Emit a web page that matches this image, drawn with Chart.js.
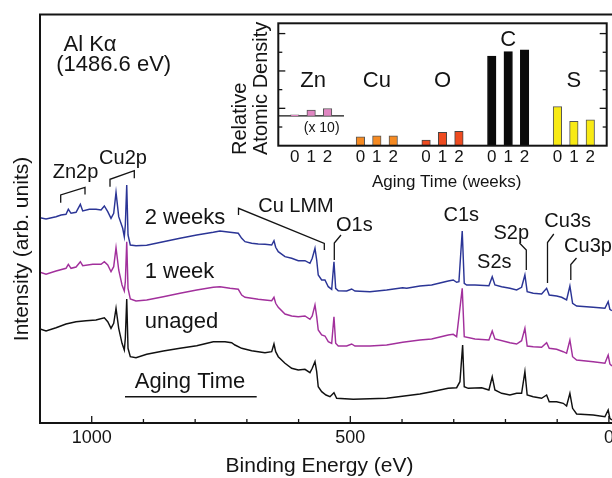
<!DOCTYPE html>
<html><head><meta charset="utf-8">
<script src="https://cdn.jsdelivr.net/npm/chart.js@4"></script>
<style>
html,body{margin:0;padding:0;background:#fff;overflow:hidden}
#wrap{position:relative;width:612px;height:478px;background:#fff}
#main{position:absolute;left:0;top:0;width:612px;height:478px}
#inset{position:absolute;left:220px;top:0;width:392px;height:200px}
</style></head><body>
<div id="wrap"><canvas id="main" width="612" height="478"></canvas><canvas id="inset" width="392" height="200"></canvas></div>
<script>
// ---------- main spectra data (binding energy in eV, intensity in arb. units) ----------
const energy2w = [1100,1088.3,1069,1059.3,1049.7,1045.2,1040,1030.3,1022,1017.4,1004.6,991.7,982,975.6,969,962.7,957.5,953,947.8,940.1,937,935,932.3,929.8,925.4,914.4,893.7,861.6,829.3,797,765,752,732.6,716.6,710,703.6,690.7,678,665,652,647.6,644.3,639.3,626.3,613.4,600.6,587.7,578,573.6,568.3,565,562,555.4,549,542.6,536,531.6,528.3,523.3,507,497.4,491,462,429.7,398.8,391,365.4,342.7,310.7,301,294.4,290,283.6,279.7,275,259,232,225.6,220.4,207.4,191.4,178.4,168.8,162.4,158,146.3,130.1,120.4,115.4,101.1,91.4,81.8,75.4,70.2,62.4,30.4,7.7,1.4,-1.9,-5.8];
const counts2w = [205.3,204,206.3,208,208.7,213.7,209.7,210.7,218.7,212,213.7,213.7,213,217,211.3,204.7,209.7,230.7,206.3,194.7,186.3,198,238,188,178,177.3,177.7,181.3,184.7,188,190.7,192,190.7,189.7,184.7,181.3,179.7,179,178.7,178,182.3,175.7,171.3,166.3,164.7,162.3,162.3,159.7,164.7,174.7,163,148,143,143,136.3,133.7,161.3,134.7,132.3,132,134,132,131.3,133,135.3,134.7,137,138,142,143,140.7,141.3,192,139.7,138,138,137.3,146.3,138,136.3,134.7,133,135.7,148,131.3,129.7,129,134.7,128,127,125.7,123,137,119.7,117,115.7,114.7,121.3,113.7,112.3];

const energy1w = [1100,1088.3,1069,1049.7,1045.2,1040,1030.3,1022,1017.4,998,982,975.6,969,962.7,957.5,953,947.8,941.4,937,935,932.3,929.8,925.4,914.4,893.7,861.6,829.3,797,765,752,732.6,716.6,710,703.6,690.7,678,665,652,647.6,644.3,639.3,626.3,613.4,600.6,587.7,578,573.6,568.3,565,562,555.4,549,542.6,536,531.6,528.3,523.3,507,497.4,491,462,429.7,398.8,365.4,342.7,310.7,301,294.4,283.6,279.7,259,232,225.6,220.4,191.4,178.4,168.8,162.4,158,146.3,130.1,120.4,115.4,101.1,88.3,81.8,75.4,70.2,62.4,30.4,7.7,1.4,-1.9,-5.8];
const counts1w = [150.7,148.7,152,154.7,158.7,154.7,156,161.3,157.3,158.7,158.7,161.3,158,151.3,156.3,175.3,153,138,132,141.3,181.3,134.7,124,122,123,126.3,129.7,133,135.7,136.3,134.7,133.7,128,125.7,124.7,123.7,123,122.3,125.7,119.7,115.7,109,107,106.3,107,103.7,107,118,106.3,93,88,87,81.3,79.7,106.3,79.7,77,77,79,77,77,78,80.7,83,84,88,88.7,86.3,134.7,86.3,84,83,92,84,80.3,79,82.3,94.7,77,76.3,75.7,80.3,74.7,73.7,71.3,69.7,83,66.3,63,61.3,59.7,68,59,57];

const energy0w = [1100,1088.3,1069,1049.7,1030.3,1011,991.7,975.6,969,962.7,957.5,953,947.8,941.4,937,935,932.3,929.8,925.4,914.4,893.7,861.6,829.3,797,765,742.3,729.4,723,710,690.7,678,665,652,647.6,644.3,639.3,626.3,613.4,600.6,587.7,578,573.6,568.3,565,562,555.4,547,539.3,531.6,526.4,494.3,429.7,365.4,342.7,310.7,294.4,288,282.8,279.7,272,246.1,232,225.6,220.4,207.4,191.4,178.4,168.8,162.4,158,146.3,130.1,120.4,115.4,101.1,88.3,81.8,75.4,70.2,62.4,30.4,7.7,1.4,-1.9,-5.8];
const counts0w = [94,92,95.3,99,101.3,102.3,103,105.3,101.3,94.7,99.7,114.7,94.7,79.7,73,84.7,124,74.7,66.3,65.3,68.7,72,74.7,77.3,81.3,81.3,80.3,78,74.7,72.3,71.3,70.3,71.3,79,71.3,66.3,59.7,54.7,53,53.7,50.3,54.7,61.3,51.3,36.3,31.3,28,26.3,30.3,24.7,23.7,24.7,29,31.3,34.7,35.3,41.3,78,36.3,34.7,35.3,33,46.3,33,29.7,28,29.7,29.7,51.3,28,26.3,24.7,28,21.3,21.3,19.7,17,29.7,14.7,9,8,6.3,13,4.7,3];

const majorEnergyTicks = [1000, 500, 0];
const minorEnergyTicks = [900, 800, 700, 600, 400, 300, 200, 100];

// ---------- inset data (relative atomic density) ----------
const elements = ['Zn', 'Cu', 'O', 'C', 'S'];
const weekLabels = ['0', '1', '2'];
const densityWeek0 = [0.05, 0.48, 0.30, 4.80, 2.09];
const densityWeek1 = [0.30, 0.53, 0.71, 5.03, 1.30];
const densityWeek2 = [0.39, 0.53, 0.77, 5.13, 1.39];
const znOffset = 1.60;          // Zn bars (x 10) drawn on a raised baseline
const densityMajorTicks = [2, 4, 6];
const densityMinorTicks = [1, 3, 5];

const FONT = "'Liberation Sans', Arial, Helvetica, sans-serif";
const INK = '#141414';

function toXY(xs, ys) { return xs.map((x, i) => ({ x: x, y: ys[i] })); }

function drawPoly(ctx, pts, lw) {
  ctx.beginPath();
  ctx.moveTo(pts[0][0], pts[0][1]);
  for (let i = 1; i < pts.length; i++) ctx.lineTo(pts[i][0], pts[i][1]);
  ctx.lineWidth = lw || 1.3;
  ctx.strokeStyle = INK;
  ctx.stroke();
}
function txt(ctx, s, x, y, size, align) {
  ctx.font = size + 'px ' + FONT;
  ctx.fillStyle = INK;
  ctx.textAlign = align || 'center';
  ctx.textBaseline = 'middle';
  ctx.fillText(s, x, y);
}

const mainDecor = {
  id: 'mainDecor',
  afterDraw(chart) {
    const ctx = chart.ctx, a = chart.chartArea, xs = chart.scales.x;
    ctx.save();
    // frame
    ctx.lineWidth = 2; ctx.strokeStyle = INK; ctx.lineCap = 'square';
    ctx.beginPath();
    ctx.moveTo(a.right + 2, a.top); ctx.lineTo(a.left, a.top); ctx.lineTo(a.left, a.bottom); ctx.lineTo(a.right + 2, a.bottom);
    ctx.stroke();
    ctx.lineCap = 'butt';
    // inward ticks
    ctx.lineWidth = 1.3;
    majorEnergyTicks.forEach(v => { const x = xs.getPixelForValue(v); ctx.beginPath(); ctx.moveTo(x, a.bottom); ctx.lineTo(x, a.bottom - 7); ctx.stroke(); });
    minorEnergyTicks.forEach(v => { const x = xs.getPixelForValue(v); ctx.beginPath(); ctx.moveTo(x, a.bottom); ctx.lineTo(x, a.bottom - 4); ctx.stroke(); });
    // axis titles
    txt(ctx, 'Binding Energy (eV)', 319.5, 466, 21);
    ctx.save(); ctx.translate(22, 249); ctx.rotate(-Math.PI / 2); txt(ctx, 'Intensity (arb. units)', 0, 0, 21); ctx.restore();
    // annotations
    txt(ctx, 'Al K\u03B1', 90, 45, 22);
    txt(ctx, '(1486.6 eV)', 113.7, 65, 22);
    txt(ctx, 'Zn2p', 75.5, 172, 20);
    txt(ctx, 'Cu2p', 123, 158, 20);
    drawPoly(ctx, [[60.7, 202.7], [60.7, 195], [85, 187.3], [85, 194.5]]);
    drawPoly(ctx, [[110, 186.7], [110, 179.3], [134.3, 170.7], [134.3, 178.3]]);
    txt(ctx, '2 weeks', 185, 217.5, 22);
    txt(ctx, '1 week', 179.5, 271.7, 22);
    txt(ctx, 'unaged', 181.5, 321.7, 22);
    txt(ctx, 'Aging Time', 190, 381.7, 22);
    drawPoly(ctx, [[125, 396.7], [256.7, 396.7]], 1.5);
    txt(ctx, 'Cu LMM', 296, 206.7, 20);
    drawPoly(ctx, [[238.5, 215], [238.5, 208.3], [324.3, 243.5], [324.3, 250]]);
    txt(ctx, 'O1s', 354.3, 225.8, 20);
    drawPoly(ctx, [[341, 235], [334.3, 243], [334.3, 260]]);
    txt(ctx, 'C1s', 461.3, 215.8, 20);
    txt(ctx, 'S2s', 494.3, 262.5, 20);
    txt(ctx, 'S2p', 511.3, 233, 20);
    drawPoly(ctx, [[519.5, 243], [526.3, 250], [526.3, 270]]);
    txt(ctx, 'Cu3s', 567.7, 221.7, 20);
    drawPoly(ctx, [[553.8, 234], [547.5, 242.5], [547.5, 283]]);
    txt(ctx, 'Cu3p', 588, 246.7, 20);
    drawPoly(ctx, [[576.5, 258], [570.8, 264.5], [570.8, 280]]);
    ctx.restore();
  }
};

new Chart(document.getElementById('main'), {
  type: 'line',
  data: {
    datasets: [
      { label: '2 weeks', data: toXY(energy2w, counts2w), borderColor: '#2b3596' },
      { label: '1 week', data: toXY(energy1w, counts1w), borderColor: '#a2309c' },
      { label: 'unaged', data: toXY(energy0w, counts0w), borderColor: '#111111' }
    ]
  },
  options: {
    responsive: false, animation: false, devicePixelRatio: 1,
    layout: { autoPadding: false, padding: { left: 0, right: 0, top: 14.5, bottom: 0 } },
    plugins: { legend: { display: false }, tooltip: { enabled: false } },
    elements: { point: { radius: 0 }, line: { borderWidth: 1.45, tension: 0 } },
    scales: {
      x: {
        type: 'linear', reverse: true, min: -6, max: 1100,
        afterBuildTicks: s => { s.ticks = majorEnergyTicks.map(v => ({ value: v })); },
        ticks: { autoSkip: false, maxRotation: 0, padding: 4, color: INK, font: { family: FONT, size: 18 }, callback: v => String(v) },
        grid: { display: false, drawTicks: false }, border: { display: false },
        afterFit: s => { s.height = 55; s.paddingLeft = 0; s.paddingRight = 0; }
      },
      y: {
        min: 0, max: 408.5,
        ticks: { display: false }, grid: { display: false, drawTicks: false }, border: { display: false },
        afterFit: s => { s.width = 40; s.paddingTop = 0; s.paddingBottom = 0; }
      }
    }
  },
  plugins: [mainDecor]
});

// ---------- inset ----------
const elementColors = ['#e086c2', '#f58a22', '#ee4b20', '#0a0a0a', '#f8ea14'];
const elementBorders = ['#555555', '#555555', '#444444', '#0a0a0a', '#555555'];
const weekSeries = [densityWeek0, densityWeek1, densityWeek2];
const slotsPerGroup = 4;
const barPositions = [];
elements.forEach((e, g) => weekLabels.forEach((w, k) => barPositions.push(slotsPerGroup * g + 1 + k)));

const insetDatasets = elements.map((el, g) => ({
  type: 'bar',
  label: el,
  data: weekSeries.map((series, k) => ({
    x: slotsPerGroup * g + 1 + k,
    y: el === 'Zn' ? [znOffset, znOffset + series[g]] : series[g]
  })),
  backgroundColor: elementColors[g],
  borderColor: elementBorders[g],
  borderWidth: 1,
  borderSkipped: 'bottom',
  barThickness: 8.5,
  grouped: false
}));
insetDatasets.push({
  type: 'line', label: 'Zn baseline',
  data: [{ x: 0, y: znOffset }, { x: slotsPerGroup, y: znOffset }],
  borderColor: INK, borderWidth: 1.2, pointRadius: 0
});

const insetDecor = {
  id: 'insetDecor',
  afterDraw(chart) {
    const ctx = chart.ctx, a = chart.chartArea, xs = chart.scales.x, ys = chart.scales.y;
    ctx.save();
    ctx.lineWidth = 2; ctx.strokeStyle = INK;
    ctx.strokeRect(a.left, a.top, a.right - a.left, a.bottom - a.top);
    ctx.lineWidth = 1.3;
    const tick = (v, len) => {
      const y = ys.getPixelForValue(v);
      ctx.beginPath(); ctx.moveTo(a.left, y); ctx.lineTo(a.left + len, y); ctx.stroke();
      ctx.beginPath(); ctx.moveTo(a.right, y); ctx.lineTo(a.right - len, y); ctx.stroke();
    };
    densityMajorTicks.forEach(v => tick(v, 7));
    densityMinorTicks.forEach(v => tick(v, 4));
    // element labels
    elements.forEach((el, g) => {
      const x = xs.getPixelForValue(slotsPerGroup * g + 2);
      txt(ctx, el, x + (el === 'Zn' ? 2 : 0), el === 'C' ? 40 : 80.7, 22);
    });
    txt(ctx, '(x 10)', xs.getPixelForValue(2.64), 128.3, 14);
    // titles
    txt(ctx, 'Aging Time (weeks)', 226.7, 182.7, 17);
    ctx.save(); ctx.translate(20, 155); ctx.rotate(-Math.PI / 2); txt(ctx, 'Relative', 0, 0, 20, 'left'); ctx.restore();
    ctx.save(); ctx.translate(41.7, 155); ctx.rotate(-Math.PI / 2); txt(ctx, 'Atomic Density', 0, 0, 20, 'left'); ctx.restore();
    ctx.restore();
  }
};

new Chart(document.getElementById('inset'), {
  data: { datasets: insetDatasets },
  options: {
    responsive: false, animation: false, devicePixelRatio: 1,
    layout: { autoPadding: false, padding: { left: 0, right: 5.3, top: 23.3, bottom: 0 } },
    plugins: { legend: { display: false }, tooltip: { enabled: false } },
    scales: {
      x: {
        type: 'linear', min: 0, max: 20, offset: false,
        afterBuildTicks: s => { s.ticks = barPositions.map(v => ({ value: v })); },
        ticks: { autoSkip: false, maxRotation: 0, padding: 1, color: INK, font: { family: FONT, size: 17 },
                 callback: (v, i) => weekLabels[i % weekLabels.length] },
        grid: { display: false, drawTicks: false }, border: { display: false },
        afterFit: s => { s.height = 54.3; s.paddingLeft = 0; s.paddingRight = 0; }
      },
      y: {
        min: 0, max: 6.55,
        ticks: { display: false }, grid: { display: false, drawTicks: false }, border: { display: false },
        afterFit: s => { s.width = 58.3; s.paddingTop = 0; s.paddingBottom = 0; }
      }
    }
  },
  plugins: [insetDecor]
});
</script>
</body></html>
